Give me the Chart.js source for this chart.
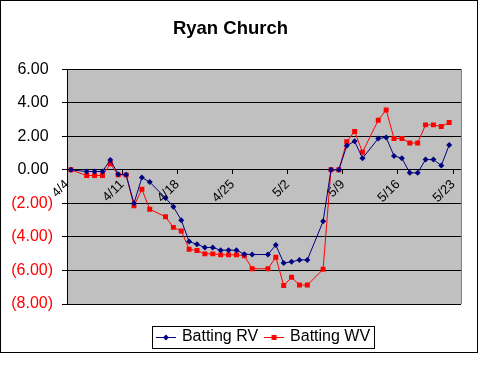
<!DOCTYPE html>
<html><head><meta charset="utf-8">
<script src="https://cdn.jsdelivr.net/npm/chart.js@4/dist/chart.umd.min.js"></script>
<style>html,body{margin:0;padding:0;background:#fff}#wrap{width:480px;height:366px;position:relative}</style>
</head><body><div id="wrap"><canvas id="c" width="480" height="366"></canvas></div>
<script>
const dates = ['4/4','4/5','4/6','4/7','4/8','4/9','4/10','4/11','4/12','4/13','4/14','4/15','4/16','4/17','4/18','4/19','4/20','4/21','4/22','4/23','4/24','4/25','4/26','4/27','4/28','4/29','4/30',
  '5/1','5/2','5/3','5/4','5/5','5/6','5/7','5/8','5/9','5/10','5/11','5/12','5/13','5/14','5/15','5/16','5/17','5/18','5/19','5/20','5/21','5/22','5/23'];
const tickLabels = ['4/4','4/11','4/18','4/25','5/2','5/9','5/16','5/23'];
const battingRV = [0,null,-0.10,-0.10,-0.10,0.59,-0.27,-0.30,-2.00,-0.46,-0.73,null,-1.68,-2.20,-3.00,-4.28,-4.44,-4.63,-4.63,-4.79,-4.79,-4.79,-5.03,-5.05,null,-5.05,-4.48,
  -5.56,-5.48,-5.37,-5.37,null,-3.07,0,0,1.44,1.70,0.69,null,1.87,1.93,0.83,0.69,-0.18,-0.18,0.61,0.61,0.26,1.48,null];
const battingWV = [0,null,-0.34,-0.34,-0.34,0.36,-0.30,-0.30,-2.15,-1.16,-2.35,null,-2.80,-3.43,-3.65,-4.73,-4.81,-5.01,-5.01,-5.07,-5.07,-5.07,-5.12,-5.90,null,-5.90,-5.21,
  -6.90,-6.41,-6.87,-6.87,null,-5.93,0,0,1.67,2.29,1.05,null,2.96,3.57,1.87,1.87,1.60,1.60,2.68,2.68,2.58,2.82,null];
const yMin = -8, yMax = 6, yStep = 2;

const FONT = 'Liberation Sans, Arial, sans-serif';
const NAVY = '#000080', RED = '#FF0000';

function legendImg(color, shape) {
  const c = document.createElement('canvas');
  c.width = 20; c.height = 8;
  const g = c.getContext('2d');
  g.strokeStyle = color; g.fillStyle = color; g.lineWidth = 1;
  g.beginPath(); g.moveTo(0, 4.5); g.lineTo(20, 4.5); g.stroke();
  g.beginPath();
  if (shape === 'diamond') { g.moveTo(10, 1.5); g.lineTo(13, 4.5); g.lineTo(10, 7.5); g.lineTo(7, 4.5); g.closePath(); }
  else { g.rect(7.5, 2, 5, 5); }
  g.fill();
  return c;
}
const legendImgs = [legendImg(NAVY, 'diamond'), legendImg(RED, 'square')];

const decor = {
  id: 'decor',
  beforeDraw(chart) {
    const {ctx, chartArea: a} = chart;
    ctx.save();
    ctx.fillStyle = '#fff';
    ctx.fillRect(0, 0, chart.width, chart.height);
    ctx.fillStyle = '#C0C0C0';
    ctx.fillRect(a.left, a.top, a.right - a.left, a.bottom - a.top);
    ctx.restore();
  },
  afterDraw(chart) {
    const {ctx, chartArea: a} = chart;
    ctx.save();
    ctx.strokeStyle = '#808080'; ctx.lineWidth = 1;
    ctx.beginPath();
    ctx.moveTo(Math.round(a.right) + 0.5, a.top); ctx.lineTo(Math.round(a.right) + 0.5, a.bottom);
    ctx.stroke();
    const hb = chart.legend.legendHitBoxes;
    if (hb && hb.length) {
      let l = Infinity, r = -Infinity, t = Infinity, b = -Infinity;
      hb.forEach(h => { l = Math.min(l, h.left); r = Math.max(r, h.left + h.width); t = Math.min(t, h.top); b = Math.max(b, h.top + h.height); });
      ctx.strokeStyle = '#000';
      ctx.strokeRect(Math.round(l - 6) + 0.5, Math.round(t - 3) + 0.5, Math.round(r - l + 10), Math.round(b - t + 6));
    }
    ctx.strokeStyle = '#000';
    ctx.strokeRect(0.5, 0.5, 477, 352);
    ctx.restore();
  }
};

new Chart(document.getElementById('c'), {
  type: 'line',
  data: {
    datasets: [
      { label: 'Batting RV', data: dates.map((d, i) => ({x: i, y: battingRV[i]})), borderColor: NAVY, backgroundColor: NAVY,
        borderWidth: 1, pointStyle: 'rectRot', pointRadius: 3, pointBorderWidth: 0, spanGaps: true, tension: 0 },
      { label: 'Batting WV', data: dates.map((d, i) => ({x: i, y: battingWV[i]})), borderColor: RED, backgroundColor: RED,
        borderWidth: 1, pointStyle: 'rect', pointRadius: 3.5, pointBorderWidth: 0, spanGaps: true, tension: 0 }
    ]
  },
  options: {
    responsive: false, animation: false, devicePixelRatio: 1,
    layout: { padding: { left: 0, right: 19, top: 0, bottom: 11 } },
    scales: {
      x: {
        type: 'linear', min: -0.5, max: dates.length - 0.5, position: { y: 0 },
        afterBuildTicks: s => { s.ticks = tickLabels.map((t, k) => ({ value: k * 7 - 0.5 })); },
        afterFit: s => { s.height = 0; },
        grid: { drawOnChartArea: false, drawTicks: true, tickLength: 4, color: '#000' },
        border: { display: true, color: '#000' },
        ticks: { autoSkip: false, maxRotation: 45, minRotation: 45, padding: 3, color: '#000',
          font: { family: FONT, size: 13 }, callback: (v, i) => tickLabels[i] }
      },
      y: {
        min: yMin, max: yMax,
        afterFit: s => { s.width = 67; },
        grid: { color: '#000', tickLength: 5 },
        border: { color: '#000' },
        ticks: { stepSize: yStep, padding: 9, font: { family: FONT, size: 16 },
          color: c => (c.tick && c.tick.value < 0) ? RED : '#000',
          callback: v => v < 0 ? '(' + Math.abs(v).toFixed(2) + ')' : v.toFixed(2) + ' ' }
      }
    },
    plugins: {
      title: { display: true, text: 'Ryan Church', color: '#000', font: { family: FONT, size: 18.5, weight: 'bold' },
        padding: { top: 18, bottom: 29 } },
      legend: {
        position: 'bottom', fullSize: false,
        title: { display: true, text: '', font: { size: 1, lineHeight: 1 }, padding: { top: 16, bottom: 0 } },
        labels: { usePointStyle: true, pointStyleWidth: 16, padding: 8, color: '#000', font: { family: FONT, size: 16 },
          generateLabels: chart => Chart.defaults.plugins.legend.labels.generateLabels(chart).map((l, i) => Object.assign(l, { pointStyle: legendImgs[i] })) }
      },
      tooltip: { enabled: false }
    }
  },
  plugins: [decor]
});
</script></body></html>
